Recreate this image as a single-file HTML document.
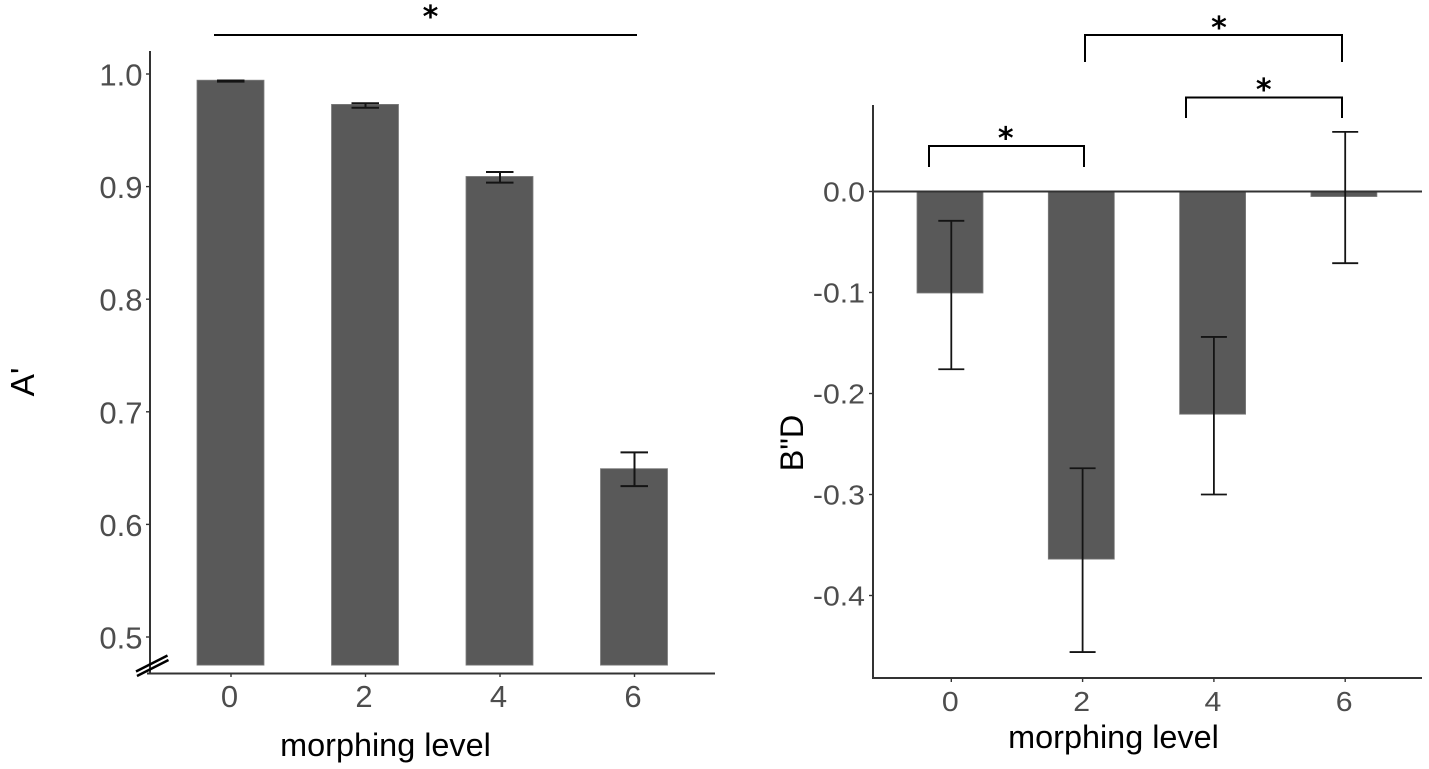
<!DOCTYPE html>
<html lang="en">
<head>
<meta charset="utf-8">
<title>A' and B"D by morphing level</title>
<style>
html,body{margin:0;padding:0;background:#fff;}
body{width:1429px;height:769px;overflow:hidden;}
svg{display:block;font-family:"Liberation Sans",Arial,sans-serif;}
</style>
</head>
<body>
<svg id="figure" xmlns="http://www.w3.org/2000/svg" width="1429" height="769" viewBox="0 0 1429 769"></svg>
<script>
const categories = ["0", "2", "4", "6"];
const aPrimeValues = [0.9945, 0.973, 0.909, 0.6495];
const aPrimeErrLow = [0.9932, 0.970, 0.9035, 0.634];
const aPrimeErrHigh = [0.9942, 0.974, 0.913, 0.664];
const aPrimeTicks = [0.5, 0.6, 0.7, 0.8, 0.9, 1.0];
const bdValues = [-0.1005, -0.364, -0.2205, -0.005];
const bdErrLow = [-0.176, -0.456, -0.3, -0.071];
const bdErrHigh = [-0.029, -0.274, -0.144, 0.059];
const bdTicks = [-0.4, -0.3, -0.2, -0.1, 0.0];

const svg = document.getElementById('figure');
const NS = 'http://www.w3.org/2000/svg';
function make(tag, attrs, text) {
  const el = document.createElementNS(NS, tag);
  for (const k in attrs) el.setAttribute(k, attrs[k]);
  if (text !== undefined) el.textContent = text;
  svg.appendChild(el);
  return el;
}
function line(x1, y1, x2, y2, stroke, w) {
  return make('line', {x1: x1, y1: y1, x2: x2, y2: y2, stroke: stroke, 'stroke-width': w});
}
const AXIS = '#333333', BAR = '#595959', EDGE = '#7d7d7d', TICK = '#4d4d4d', INK = '#000000', ERR = '#141414';
const STAR_FONT = '"DejaVu Sans", sans-serif';

/* Left panel scales */
const xL = i => 230.5 + 134.5 * i;
const yL = v => 74 + (1 - v) * 1126;
const baseL = 0.475;
/* Right panel scales */
const xR = i => 950 + 131.3 * i;
const yR = v => 191.5 - v * 1010;

/* ---------- Left panel ---------- */
categories.forEach((c, i) => {
  const top = yL(aPrimeValues[i]);
  const bar = make('rect', {x: xL(i) - 33.5, y: top, width: 67, height: yL(baseL) - top, fill: BAR, stroke: EDGE, 'stroke-width': 0.8});
  
  
  const stem = line(xL(i) + 0.5, yL(aPrimeErrHigh[i]), xL(i) + 0.5, yL(aPrimeErrLow[i]), ERR, 2);
  
  
  const capT = line(xL(i) - 13.5, yL(aPrimeErrHigh[i]), xL(i) + 14, yL(aPrimeErrHigh[i]), ERR, 2);
  
  
  const capB = line(xL(i) - 13.5, yL(aPrimeErrLow[i]), xL(i) + 14, yL(aPrimeErrLow[i]), ERR, 2);
  
  
  const tick = line(xL(i) + 0.5, 673, xL(i) + 0.5, 677, AXIS, 1.4);
  
  
  const lab = make('text', {x: xL(i) - 1, y: 707, 'text-anchor': 'middle', 'font-size': 31, fill: TICK}, c);
  
  
});
aPrimeTicks.forEach(t => {
  const tick = line(146, yL(t), 150, yL(t), AXIS, 1.4);
  
  
  const lab = make('text', {x: 142.5, y: yL(t) + 11.5, 'text-anchor': 'end', 'font-size': 31, fill: TICK}, t.toFixed(1));
  
  
});
const yAxisL = line(150, 51, 150, 673, AXIS, 2);


const xAxisL = line(147, 673.5, 715, 673.5, AXIS, 2);


const breakA = line(136, 671.5, 167.5, 655.5, INK, 2.4);


const breakB = line(137, 676, 168.5, 660, INK, 2.4);


const titleXL = make('text', {x: 385.5, y: 756, 'text-anchor': 'middle', 'font-size': 32.4, fill: INK}, 'morphing level');


const titleYL = make('text', {transform: 'translate(34,382) rotate(-90)', 'text-anchor': 'middle', 'font-size': 33.5, fill: INK}, "A'");


const sigL = line(214, 35, 637, 35, INK, 2);


const starL = make('text', {x: 430.5, y: 27, 'text-anchor': 'middle', 'font-size': 30, 'font-family': STAR_FONT, 'font-weight': 'bold', fill: INK}, '*');



/* ---------- Right panel ---------- */
categories.forEach((c, i) => {
  const v = yR(bdValues[i]);
  const bar = make('rect', {x: xR(i) - 33, y: yR(0), width: 66, height: v - yR(0), fill: BAR, stroke: EDGE, 'stroke-width': 0.8});
  
  
});
const zero = line(873, yR(0), 1422, yR(0), AXIS, 2);


categories.forEach((c, i) => {
  const ex = xR(i) + 1.3;
  const stem = line(ex, yR(bdErrHigh[i]), ex, yR(bdErrLow[i]), ERR, 1.8);
  
  
  const capT = line(ex - 13, yR(bdErrHigh[i]), ex + 13, yR(bdErrHigh[i]), ERR, 1.8);
  
  
  const capB = line(ex - 13, yR(bdErrLow[i]), ex + 13, yR(bdErrLow[i]), ERR, 1.8);
  
  
  const tick = line(ex, 678, ex, 682, AXIS, 1.4);
  
  
  const lab = make('text', {transform: 'translate(' + (ex - 1) + ',711) scale(1.1,1)', 'text-anchor': 'middle', 'font-size': 27.5, fill: TICK}, c);
  
  
});
bdTicks.forEach(t => {
  const tick = line(869, yR(t), 873, yR(t), AXIS, 1.4);
  
  
  const lab = make('text', {transform: 'translate(865,' + (yR(t) + 10) + ') scale(1.1,1)', 'text-anchor': 'end', 'font-size': 27.5, fill: TICK}, t.toFixed(1));
  
  
});
const yAxisR = line(873, 105, 873, 678, AXIS, 2);


const xAxisR = line(872, 678, 1422, 678, AXIS, 2);


const titleXR = make('text', {x: 1113.5, y: 748, 'text-anchor': 'middle', 'font-size': 32.4, fill: INK}, 'morphing level');


const titleYR = make('text', {transform: 'translate(803,443) rotate(-90)', 'text-anchor': 'middle', 'font-size': 32.4, fill: INK}, 'B"D');



const b1 = make('polyline', {points: '1085,62 1085,35 1342,35 1342,62', fill: 'none', stroke: INK, 'stroke-width': 2});


const b2 = make('polyline', {points: '1186,118 1186,97.5 1342,97.5 1342,118', fill: 'none', stroke: INK, 'stroke-width': 2});


const b3 = make('polyline', {points: '929,167 929,146 1084,146 1084,167', fill: 'none', stroke: INK, 'stroke-width': 2});


const s1 = make('text', {x: 1219, y: 38, 'text-anchor': 'middle', 'font-size': 30, 'font-family': STAR_FONT, 'font-weight': 'bold', fill: INK}, '*');


const s2 = make('text', {x: 1263.7, y: 100, 'text-anchor': 'middle', 'font-size': 30, 'font-family': STAR_FONT, 'font-weight': 'bold', fill: INK}, '*');


const s3 = make('text', {x: 1005.7, y: 148.5, 'text-anchor': 'middle', 'font-size': 30, 'font-family': STAR_FONT, 'font-weight': 'bold', fill: INK}, '*');


</script>
</body>
</html>
